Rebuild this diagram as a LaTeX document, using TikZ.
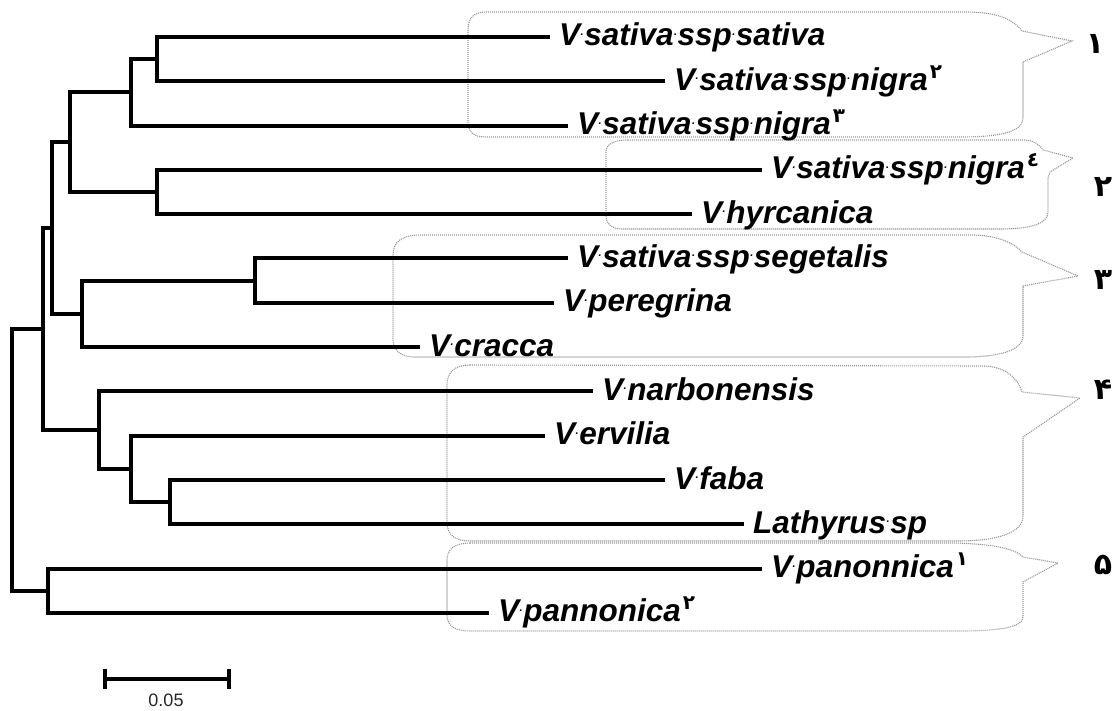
\documentclass[tikz,border=0pt]{standalone}
\usepackage{fontspec}
\setmainfont{Liberation Sans}
\newfontfamily\fa[Script=Arabic]{DejaVu Sans}
\newcommand{\dt}{\hspace{0.5pt}\raisebox{10.5pt}{\fontsize{11}{11}\selectfont .}\hspace{0.5pt}}
\newcommand{\sps}[1]{\hspace{2pt}\raisebox{12pt}{\fa\bfseries\upshape\fontsize{20}{20}\selectfont #1}}
\tikzset{
  branch/.style={line width=4pt},
  leaf/.style={font=\fontsize{31.5}{31.5}\selectfont\bfseries\itshape, inner sep=0pt, anchor=base west},
  grp/.style={draw=gray!80, line width=1.1pt, dash pattern=on 1.1pt off 0.9pt},
  num/.style={font=\fa\bfseries\fontsize{30}{30}\selectfont, inner sep=0pt},
}
\begin{document}
\begin{tikzpicture}[x=1pt,y=-1pt]
\useasboundingbox (0,0) rectangle (1114,711);
% leaf line ends
\coordinate (l1) at (550,37);
\coordinate (l2) at (665,81.3);
\coordinate (l3) at (568,125.6);
\coordinate (l4) at (762,169.9);
\coordinate (l5) at (692,214.2);
\coordinate (l6) at (568,258.5);
\coordinate (l7) at (554,302.8);
\coordinate (l8) at (420,347.1);
\coordinate (l9) at (593,391.4);
\coordinate (l10) at (545,435.7);
\coordinate (l11) at (665,480);
\coordinate (l12) at (744,524.3);
\coordinate (l13) at (762,568.6);
\coordinate (l14) at (489,612.9);
% internal nodes
\coordinate (A) at (157,59.2);
\coordinate (B) at (131,92.4);
\coordinate (C) at (157,192);
\coordinate (D) at (70,142.2);
\coordinate (E) at (255,280.6);
\coordinate (F) at (82,313.9);
\coordinate (G) at (52,228);
\coordinate (J) at (170,502.2);
\coordinate (I) at (131,469);
\coordinate (H) at (99,430.2);
\coordinate (K) at (43,329);
\coordinate (L) at (48,590.8);
\coordinate (R) at (12,460);
% groups
\draw[grp] (486,12) -- (965,12) .. controls (995,12) and (1012,18) .. (1022,31) -- (1072,41) -- (1023,62) -- (1023,118) .. controls (1023,132) and (1000,137) .. (960,137) -- (486,137) .. controls (473,137) and (468,132) .. (468,120) -- (468,30) .. controls (468,18) and (474,12) .. (486,12) -- cycle;
\draw[grp] (628,140) -- (1025,140) .. controls (1033,140) and (1040,145) .. (1043,150) -- (1073,158) -- (1050,172) -- (1048,178) -- (1048,212) .. controls (1048,224) and (1030,229) .. (1000,229) -- (622,229) .. controls (612,229) and (606,224) .. (606,215) -- (606,152) .. controls (606,144) and (614,140) .. (628,140) -- cycle;
\draw[grp] (420,235) -- (975,235) .. controls (1000,236) and (1015,244) .. (1022,252) -- (1078,276) -- (1023,286) -- (1023,336) .. controls (1023,350) and (1000,357) .. (965,357) -- (415,357) .. controls (400,357) and (393,350) .. (393,338) -- (393,255) .. controls (393,242) and (402,235) .. (420,235) -- cycle;
\draw[grp] (470,365) -- (985,366) .. controls (1005,367) and (1018,378) .. (1022,392) -- (1080,398) -- (1023,437) -- (1023,516) .. controls (1023,532) and (1000,541) .. (957,541) -- (470,541) .. controls (455,541) and (447,535) .. (447,522) -- (447,385) .. controls (447,372) and (455,365) .. (470,365) -- cycle;
\draw[grp] (470,543) -- (955,543) .. controls (990,544) and (1015,548) .. (1023,557) -- (1058,563) -- (1023,582) -- (1023,617) .. controls (1023,627) and (1000,631) .. (960,631) -- (470,631) .. controls (455,631) and (447,626) .. (447,615) -- (447,560) .. controls (447,549) and (455,543) .. (470,543) -- cycle;
% tree
\draw[branch] (A) |- (l1); \draw[branch] (A) |- (l2);
\draw[branch] (B) |- (A); \draw[branch] (B) |- (l3);
\draw[branch] (C) |- (l4); \draw[branch] (C) |- (l5);
\draw[branch] (D) |- (B); \draw[branch] (D) |- (C);
\draw[branch] (E) |- (l6); \draw[branch] (E) |- (l7);
\draw[branch] (F) |- (E); \draw[branch] (F) |- (l8);
\draw[branch] (G) |- (D); \draw[branch] (G) |- (F);
\draw[branch] (J) |- (l11); \draw[branch] (J) |- (l12);
\draw[branch] (I) |- (l10); \draw[branch] (I) |- (J);
\draw[branch] (H) |- (l9); \draw[branch] (H) |- (I);
\draw[branch] (K) |- (G); \draw[branch] (K) |- (H);
\draw[branch] (L) |- (l13); \draw[branch] (L) |- (l14);
\draw[branch] (R) |- (K); \draw[branch] (R) |- (L);
% labels
\node[leaf] (t1) at ([xshift=9pt,yshift=-9pt]l1) {V\dt sativa\dt ssp\dt sativa};
\node[leaf] (t2) at ([xshift=9pt,yshift=-9pt]l2) {V\dt sativa\dt ssp\dt nigra\sps{۲}};
\node[leaf] (t3) at ([xshift=9pt,yshift=-9pt]l3) {V\dt sativa\dt ssp\dt nigra\sps{۳}};
\node[leaf] (t4) at ([xshift=9pt,yshift=-9pt]l4) {V\dt sativa\dt ssp\dt nigra\sps{٤}};
\node[leaf] (t5) at ([xshift=9pt,yshift=-9pt]l5) {V\dt hyrcanica};
\node[leaf] (t6) at ([xshift=9pt,yshift=-9pt]l6) {V\dt sativa\dt ssp\dt segetalis};
\node[leaf] (t7) at ([xshift=9pt,yshift=-9pt]l7) {V\dt peregrina};
\node[leaf] (t8) at ([xshift=9pt,yshift=-9pt]l8) {V\dt cracca};
\node[leaf] (t9) at ([xshift=9pt,yshift=-9pt]l9) {V\dt narbonensis};
\node[leaf] (t10) at ([xshift=9pt,yshift=-9pt]l10) {V\dt ervilia};
\node[leaf] (t11) at ([xshift=9pt,yshift=-9pt]l11) {V\dt faba};
\node[leaf] (t12) at ([xshift=9pt,yshift=-9pt]l12) {Lathyrus\dt sp};
\node[leaf] (t13) at ([xshift=9pt,yshift=-9pt]l13) {V\dt panonnica\sps{۱}};
\node[leaf] (t14) at ([xshift=9pt,yshift=-9pt]l14) {V\dt pannonica\sps{۲}};
% group numbers
\node[num] (n1) at (1095,44) {۱};
\node[num] (n2) at (1103,187) {۲};
\node[num] (n3) at (1103,280) {۳};
\node[num] (n4) at (1103,390) {۴};
\node[num] (n5) at (1103,565) {۵};
% scale bar
\coordinate (s1) at (104.5,679);
\coordinate (s2) at (228.5,679);
\draw[line width=4pt] (s1) -- (s2);
\draw[line width=4pt] ([yshift=10pt]s1) -- ([yshift=-10pt]s1);
\draw[line width=4pt] ([yshift=10pt]s2) -- ([yshift=-10pt]s2);
\node[font=\fontsize{18}{18}\selectfont, text=black!85, inner sep=0pt] (sl) at (166,700) {0.05};
\end{tikzpicture}
\end{document}
